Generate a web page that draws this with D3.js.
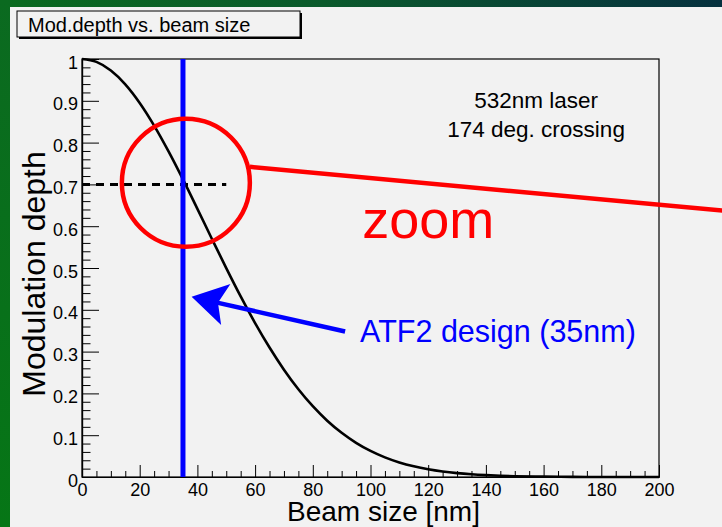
<!DOCTYPE html>
<html>
<head>
<meta charset="utf-8">
<script src="https://cdn.jsdelivr.net/npm/d3@7/dist/d3.min.js"></script>
<style>
  html, body { margin: 0; padding: 0; background: #f2f2f2; }
  svg { display: block; font-family: "Liberation Sans", Arial, Helvetica, sans-serif; }
</style>
</head>
<body>
<svg id="chart" width="722" height="527"></svg>
<script>
// ---- data ----
const beamSize = [0, 5, 10, 15, 20, 25, 30, 35, 40, 45, 50, 55, 60, 65, 70, 75, 80, 85, 90, 95, 100,
                  105, 110, 115, 120, 125, 130, 135, 140, 145, 150, 160, 170, 180, 190, 200];
const modDepth = [1.0, 0.9931, 0.9726, 0.9395, 0.8950, 0.8408, 0.7790, 0.7119, 0.6415, 0.5701, 0.4998,
                  0.4320, 0.3683, 0.3097, 0.2568, 0.2100, 0.1694, 0.1347, 0.1057, 0.0818, 0.0624,
                  0.0469, 0.0348, 0.0255, 0.0184, 0.0131, 0.0092, 0.0064, 0.0044, 0.0029, 0.0019,
                  0.0008, 0.0003, 0.0001, 0.0000, 0.0000];
const xTicks = [0, 20, 40, 60, 80, 100, 120, 140, 160, 180, 200];
const yTicks = [0, 0.1, 0.2, 0.3, 0.4, 0.5, 0.6, 0.7, 0.8, 0.9, 1];
const designBeam = 35;       // ATF2 design beam size (nm)
const refDepth = 0.7;        // dashed reference level
const refDepthEnd = 50;      // dashed line extends to this beam size
const titleText = "Mod.depth vs. beam size";
const xTitle = "Beam size [nm]";
const yTitle = "Modulation depth";
const infoLines = ["532nm laser", "174 deg. crossing"];

// ---- setup ----
const svg = d3.select("#chart");
const W = 722, H = 527;
const x = d3.scaleLinear().domain([0, 200]).range([82, 659]);
const y = d3.scaleLinear().domain([0, 1]).range([477, 59]);

// background frame (green border)
const defs = svg.append("defs");
const g1 = defs.append("linearGradient").attr("id", "topband").attr("x1", "0").attr("x2", "1").attr("y1", "0").attr("y2", "0");
g1.append("stop").attr("offset", "0").attr("stop-color", "#0a6a1f");
g1.append("stop").attr("offset", "0.45").attr("stop-color", "#0b5a2c");
g1.append("stop").attr("offset", "1").attr("stop-color", "#06313f");
const g2 = defs.append("linearGradient").attr("id", "leftband").attr("x1", "0").attr("x2", "0").attr("y1", "0").attr("y2", "1");
g2.append("stop").attr("offset", "0").attr("stop-color", "#0b6a20");
g2.append("stop").attr("offset", "1").attr("stop-color", "#067616");

svg.append("rect").attr("x", 0).attr("y", 0).attr("width", W).attr("height", H).attr("fill", "#f2f2f2");
svg.append("rect").attr("x", 0).attr("y", 0).attr("width", W).attr("height", 7).attr("fill", "url(#topband)");
svg.append("rect").attr("x", 0).attr("y", 0).attr("width", 10).attr("height", H).attr("fill", "url(#leftband)");

// plot frame
svg.append("rect")
  .attr("x", x(0)).attr("y", y(1))
  .attr("width", x(200) - x(0)).attr("height", y(0) - y(1))
  .attr("fill", "none").attr("stroke", "#000").attr("stroke-width", 1.2);

// ---- axes ----
const xMinor = d3.range(0, 201, 5).filter(v => v % 20 !== 0);
const yMinor = d3.range(0, 101, 2).map(v => v / 100).filter(v => Math.round(v * 100) % 10 !== 0);

const xAxisMajor = d3.axisBottom(x).tickValues(xTicks).tickSizeInner(-12).tickSizeOuter(0).tickPadding(6)
  .tickFormat(d3.format("d"));
const xAxisMinor = d3.axisBottom(x).tickValues(xMinor).tickSizeInner(-6).tickSizeOuter(0).tickFormat("");
const yAxisMajor = d3.axisLeft(y).tickValues(yTicks).tickSizeInner(-17).tickSizeOuter(0).tickPadding(4)
  .tickFormat(d => d === 0 ? "0" : d === 1 ? "1" : d3.format(".1f")(d));
const yAxisMinor = d3.axisLeft(y).tickValues(yMinor).tickSizeInner(-8.5).tickSizeOuter(0).tickFormat("");

function styleAxis(g) {
  g.select(".domain").attr("stroke", "#000").attr("stroke-width", 1.2);
  g.selectAll(".tick line").attr("stroke", "#000").attr("stroke-width", 1);
  g.selectAll(".tick text").attr("fill", "#000").style("font-size", "18px")
    .style("font-family", "'Liberation Sans', Arial, sans-serif");
}
svg.append("g").attr("transform", `translate(0,${y(0)})`).call(xAxisMinor).call(styleAxis);
svg.append("g").attr("transform", `translate(0,${y(0)})`).call(xAxisMajor).call(styleAxis);
svg.append("g").attr("transform", `translate(${x(0)},0)`).call(yAxisMinor).call(styleAxis);
const yg = svg.append("g").attr("transform", `translate(${x(0)},0)`).call(yAxisMajor).call(styleAxis);
yg.selectAll(".tick text").attr("dy", "0.5em");

// axis titles
svg.append("text").attr("x", 383.5).attr("y", 521).attr("text-anchor", "middle")
  .style("font-size", "28px").attr("fill", "#000").text(xTitle);
svg.append("text").attr("transform", "translate(45,274) rotate(-90)").attr("text-anchor", "middle")
  .style("font-size", "32px").attr("fill", "#000").text(yTitle);

// ---- curve ----
const pts = beamSize.map((b, i) => [b, modDepth[i]]);
const line = d3.line().x(d => x(d[0])).y(d => y(d[1])).curve(d3.curveMonotoneX);
svg.append("path").datum(pts).attr("d", line)
  .attr("fill", "none").attr("stroke", "#000").attr("stroke-width", 2.6);

// dashed reference line
svg.append("line")
  .attr("x1", x(0)).attr("x2", x(refDepthEnd)).attr("y1", y(refDepth)).attr("y2", y(refDepth))
  .attr("stroke", "#000").attr("stroke-width", 3).attr("stroke-dasharray", "8,6");

// design beam size vertical line
svg.append("line")
  .attr("x1", x(designBeam)).attr("x2", x(designBeam)).attr("y1", y(1)).attr("y2", y(0))
  .attr("stroke", "#0000ff").attr("stroke-width", 5);

// ---- annotations ----
// zoom circle + line
const circ = { cx: 36, cy: 0.704, r: 64 };
svg.append("circle").attr("cx", x(circ.cx)).attr("cy", y(circ.cy)).attr("r", circ.r)
  .attr("fill", "none").attr("stroke", "#ff0000").attr("stroke-width", 4.5);
svg.append("line")
  .attr("x1", x(58.2)).attr("y1", y(0.742)).attr("x2", x(224)).attr("y2", y(0.636))
  .attr("stroke", "#ff0000").attr("stroke-width", 4.5);
svg.append("text").attr("x", x(97.1)).attr("y", y(0.572))
  .style("font-size", "54px").attr("fill", "#ff0000").text("zoom");

// blue arrow
const tip = [x(38.0), y(0.431)], tail = [x(91.2), y(0.348)];
const dx = tail[0] - tip[0], dy = tail[1] - tip[1];
const L = Math.hypot(dx, dy), ux = dx / L, uy = dy / L, px = -uy, py = ux;
const wingA = 35, wingP = 21, notch = 27;
const P = (a, p) => [tip[0] + ux * a + px * p, tip[1] + uy * a + py * p];
svg.append("line")
  .attr("x1", P(notch - 2, 0)[0]).attr("y1", P(notch - 2, 0)[1])
  .attr("x2", tail[0]).attr("y2", tail[1])
  .attr("stroke", "#0000ff").attr("stroke-width", 4.5);
svg.append("path")
  .attr("d", d3.line()([tip, P(wingA, -wingP), P(notch, 0), P(wingA, wingP)]) + "Z")
  .attr("fill", "#0000ff");
svg.append("text").attr("x", x(96.4)).attr("y", y(0.323))
  .style("font-size", "30.5px").attr("fill", "#0000ff").text("ATF2 design (35nm)");

// info text
infoLines.forEach((t, i) => {
  svg.append("text").attr("x", x(157.4)).attr("y", y(0.882) + i * 28.4)
    .attr("text-anchor", "middle").style("font-size", "22.5px").attr("fill", "#000").text(t);
});

// title box with shadow
svg.append("rect").attr("x", 19).attr("y", 13).attr("width", 283).attr("height", 26).attr("fill", "#000");
svg.append("rect").attr("x", 17).attr("y", 11).attr("width", 283).attr("height", 26)
  .attr("fill", "#f2f2f2").attr("stroke", "#000").attr("stroke-width", 1);
svg.append("text").attr("x", 28).attr("y", 32).style("font-size", "20px").attr("fill", "#000").text(titleText);
</script>
</body>
</html>
